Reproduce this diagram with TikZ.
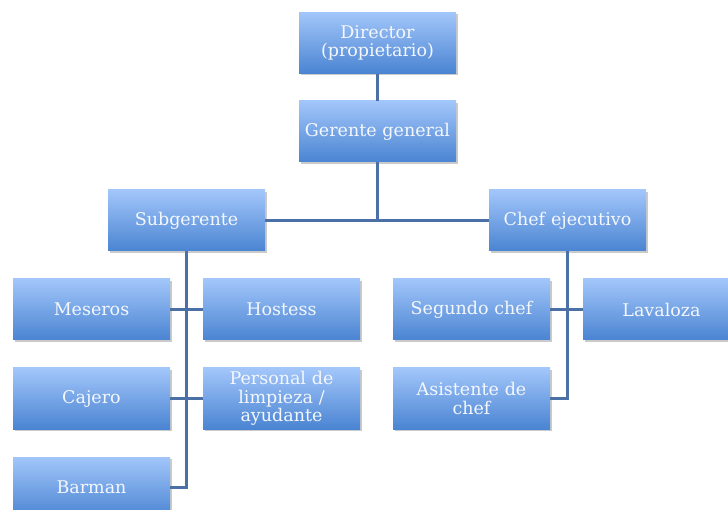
\documentclass[tikz,border=0pt]{standalone}
\usepackage{fontspec}
\setmainfont{DejaVu Serif}
\usetikzlibrary{shadows}
\definecolor{boxtop}{HTML}{A2C6FA}
\definecolor{boxbot}{HTML}{4A84D2}
\definecolor{linec}{HTML}{4A70A6}
\definecolor{txt}{HTML}{F4F7FC}
\tikzset{
  orgbox/.style={rectangle, minimum width=157pt, minimum height=61pt, inner sep=1pt,
    top color=boxtop, bottom color=boxbot, draw=none, text=txt,
    font=\fontsize{17.5}{18.4}\selectfont, align=center, text width=155pt,
    drop shadow={shadow xshift=1.5pt, shadow yshift=-2pt, opacity=0.35, fill=black!60}},
  conn/.style={draw=linec, line width=2.2pt}
}
\begin{document}
\begin{tikzpicture}[x=1pt, y=-1pt]
\path[use as bounding box] (0,0) rectangle (728,510);
\clip (0,0) rectangle (728,510);
\node[orgbox] (dir) at (377.5,43) {Director\\(propietario)};
\node[orgbox] (ger) at (377.5,131.5) {Gerente general};
\node[orgbox] (sub) at (186.5,220.5) {Subgerente};
\node[orgbox] (chef) at (567.5,220.5) {Chef ejecutivo};
\node[orgbox] (mes) at (91.5,309.5) {Meseros};
\node[orgbox] (hos) at (281.5,309.5) {Hostess};
\node[orgbox] (caj) at (91.5,398.5) {Cajero};
\node[orgbox] (per) at (281.5,398.5) {Personal de\\limpieza /\\ayudante};
\node[orgbox] (bar) at (91.5,487.5) {Barman};
\node[orgbox] (seg) at (471.5,309.5) {Segundo chef};
\node[orgbox] (lav) at (661.5,309.5) {Lavaloza};
\node[orgbox] (asi) at (471.5,398.5) {Asistente de\\chef};
\coordinate (j1) at (ger.south |- sub.east);
\coordinate (sv) at (sub.south |- bar.east);
\coordinate (cv) at (chef.south |- asi.east);
\draw[conn] (dir.south) -- (ger.north);
\draw[conn] (ger.south) -- (j1);
\draw[conn] (sub.east) -- (chef.west);
\draw[conn] (sub.south) -- (sv) -- (bar.east);
\draw[conn] (mes.east) -- (hos.west);
\draw[conn] (caj.east) -- (per.west);
\draw[conn] (chef.south) -- (cv) -- (asi.east);
\draw[conn] (seg.east) -- (lav.west);
\end{tikzpicture}
\end{document}
